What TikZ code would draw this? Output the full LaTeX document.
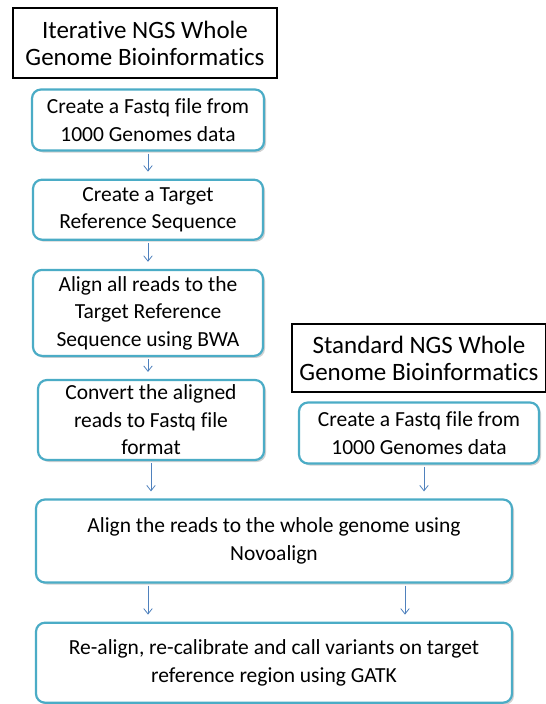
\documentclass[tikz,border=0pt]{standalone}
\usepackage{fontspec}
\setmainfont{Carlito}[Ligatures=NoCommon]
\usetikzlibrary{positioning, shadows}
\usetikzlibrary{arrows.meta}
\definecolor{boxline}{HTML}{4BACC6}
\definecolor{arrowblue}{HTML}{4F81BD}
\tikzset{>={Straight Barb[width=3mm,length=1.9mm]}}

\begin{document}
\begin{tikzpicture}[x=1pt, y=1pt,
    titlebox/.style={rectangle, draw=black, line width=1.8pt, fill=white, align=center, inner sep=2pt, font=\fontsize{25}{27}\selectfont},
    stepbox/.style={rounded corners=9pt, draw=boxline, line width=2.2pt, fill=white, align=center, inner sep=2pt, font=\fontsize{21.5}{27.5}\selectfont, drop shadow={shadow xshift=2pt, shadow yshift=-2pt, opacity=0.3, fill=black!60}},
    flow/.style={->, arrowblue, line width=0.8pt, shorten <=2pt, shorten >=7pt}]
    \useasboundingbox (0,0) rectangle (546,-704);

    %Nodes
    \node[titlebox, minimum width=264pt, minimum height=70pt](iter_title) at (145,-43){Iterative NGS Whole\\Genome Bioinformatics};
    \node[stepbox, minimum width=232pt, minimum height=61pt](fastq_a) at (148,-120){Create a Fastq file from\\1000 Genomes data};
    \node[stepbox, minimum width=230pt, minimum height=60pt](target)[below=27pt of fastq_a]{Create a Target\\Reference Sequence};
    \node[stepbox, minimum width=230pt, minimum height=86pt](bwa)[below=28pt of target]{Align all reads to the\\Target Reference\\Sequence using BWA};
    \node[stepbox, minimum width=226pt, minimum height=80pt](convert) at (151,-420){Convert the aligned\\reads to Fastq file\\format};
    \node[titlebox, minimum width=254pt, minimum height=68pt](std_title) at (419,-358){Standard NGS Whole\\Genome Bioinformatics};
    \node[stepbox, minimum width=240pt, minimum height=61pt](fastq_b) at (419,-433){Create a Fastq file from\\1000 Genomes data};
    \node[stepbox, minimum width=476pt, minimum height=83pt](novo) at (274,-541){Align the reads to the whole genome using\\Novoalign};
    \node[stepbox, minimum width=476pt, minimum height=80pt](gatk)[below=38pt of novo]{Re-align, re-calibrate and call variants on target\\reference region using GATK};
    \coordinate (novo_l) at ([xshift=-126pt]novo.south);
    \coordinate (novo_r) at ([xshift=131pt]novo.south);

    %Lines
    \draw[flow] (fastq_a.south) -- (fastq_a.south |- target.north);
    \draw[flow] (target.south) -- (target.south |- bwa.north);
    \draw[flow] (bwa.south) -- (bwa.south |- convert.north);
    \draw[flow] (convert.south) -- (convert.south |- novo.north);
    \draw[flow] ([xshift=5pt]fastq_b.south) -- ([xshift=5pt]fastq_b.south |- novo.north);
    \draw[flow] (novo_l) -- (novo_l |- gatk.north);
    \draw[flow] (novo_r) -- (novo_r |- gatk.north);

\end{tikzpicture}
\end{document}
